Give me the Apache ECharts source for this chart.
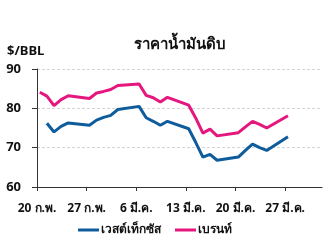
<!DOCTYPE html>
<html>
<head>
<meta charset="utf-8">
<script src="https://cdn.jsdelivr.net/npm/echarts@6/dist/echarts.min.js"></script>
<style>
html,body{margin:0;padding:0;background:#fff;}
#c{width:336px;height:248px;}
</style>
</head>
<body>
<div id="c"></div>
<script>
var title = 'ราคาน้ำมันดิบ';
var unitLabel = '$/BBL';
var seriesNames = ['เวสต์เท็กซัส', 'เบรนท์'];
var startDate = '2023-02-20';
var dates = ['2023-02-20','2023-02-21','2023-02-22','2023-02-23','2023-02-24',
  '2023-02-27','2023-02-28','2023-03-01','2023-03-02','2023-03-03',
  '2023-03-06','2023-03-07','2023-03-08','2023-03-09','2023-03-10',
  '2023-03-13','2023-03-14','2023-03-15','2023-03-16','2023-03-17',
  '2023-03-20','2023-03-21','2023-03-22','2023-03-23','2023-03-24',
  '2023-03-27'];
var wti = [null,76.2,74.0,75.4,76.3,
  75.7,77.0,77.7,78.2,79.7,
  80.5,77.6,76.7,75.7,76.7,
  74.8,71.3,67.6,68.3,66.8,
  67.6,69.3,70.9,70.0,69.3,
  72.8];
var brent = [84.1,83.1,80.7,82.2,83.2,
  82.5,83.9,84.3,84.8,85.8,
  86.2,83.3,82.7,81.6,82.8,
  80.8,77.5,73.7,74.7,73.0,
  73.8,75.3,76.7,75.9,75.0,
  78.1];
var tickDays = [0,7,14,21,28,35];
var tickLabels = ['20 ก.พ.','27 ก.พ.','6 มี.ค.','13 มี.ค.','20 มี.ค.','27 มี.ค.'];

var DAY = 86400000;
var t0 = Date.parse(startDate + 'T00:00:00Z');
var pointOffset = 0.4; // points drawn mid-day on the date axis
function dayOf(d){ return (Date.parse(d + 'T00:00:00Z') - t0) / DAY + pointOffset; }
function pairs(vals){
  var out = [];
  for (var i = 0; i < dates.length; i++) if (vals[i] != null) out.push([dayOf(dates[i]), vals[i]]);
  return out;
}
var FONT = '"Noto Sans", sans-serif';
var chart = echarts.init(document.getElementById('c'), null, {renderer:'canvas'});
chart.setOption({
  animation: false,
  backgroundColor: '#fff',
  title: {
    text: title, left: 175, top: 32, textAlign: 'center',
    textStyle: {fontFamily: FONT, fontSize: 15, fontWeight: 'bold', color: '#111'}
  },
  graphic: [{
    type: 'text', left: 7, top: 45,
    style: {text: unitLabel, fontFamily: FONT, fontSize: 13, fontWeight: 'bold', fill: '#111'}
  }],
  legend: {
    bottom: 7, left: 73, itemGap: 14,
    icon: 'rect', itemWidth: 21, itemHeight: 3,
    textStyle: {fontFamily: FONT, fontSize: 12, fontWeight: 'bold', color: '#111', padding:[0,0,0,-3]},
    data: seriesNames
  },
  grid: {left: 37, right: 14, top: 69, bottom: 61},
  xAxis: {
    type: 'value', min: 0, max: 40.2,
    axisLine: {show: true, lineStyle: {color: '#333', width: 1}},
    axisTick: {show: true, length: 4, customValues: tickDays, lineStyle: {color: '#333'}},
    splitLine: {show: false},
    axisLabel: {
      customValues: tickDays, margin: 16,
      fontFamily: FONT, fontSize: 12, fontWeight: 'bold', color: '#111',
      formatter: function(v){ var i = tickDays.indexOf(v); return i >= 0 ? tickLabels[i] : ''; }
    }
  },
  yAxis: {
    type: 'value', min: 60, max: 90, interval: 10,
    axisLine: {show: true, lineStyle: {color: '#333', width: 1}},
    axisTick: {show: true, length: 5, lineStyle: {color: '#333'}},
    splitLine: {show: true, lineStyle: {color: '#d4d4d4', type: [3,2], width: 1}},
    axisLabel: {margin: 16, fontFamily: FONT, fontSize: 13, fontWeight: 'bold', color: '#111'}
  },
  series: [
    {name: seriesNames[0], type: 'line', data: pairs(wti), showSymbol: false,
     lineStyle: {width: 3, color: '#0f5c9c'}, itemStyle: {color: '#0f5c9c'}},
    {name: seriesNames[1], type: 'line', data: pairs(brent), showSymbol: false,
     lineStyle: {width: 3, color: '#e5177e'}, itemStyle: {color: '#e5177e'}}
  ]
});
</script>
</body>
</html>
